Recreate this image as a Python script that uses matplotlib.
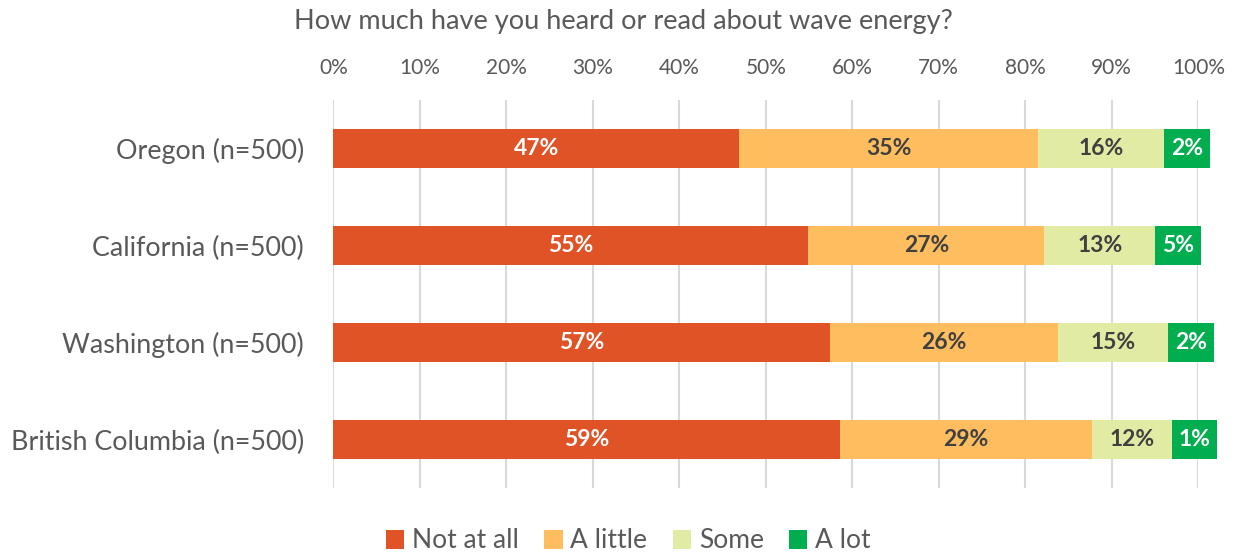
import matplotlib.pyplot as plt
import numpy as np

plt.rcParams['font.family'] = ['Lato', 'DejaVu Sans']

regions = ['Oregon (n=500)', 'California (n=500)', 'Washington (n=500)',
           'British Columbia (n=500)']
answers = ['Not at all', 'A little', 'Some', 'A lot']

# segment widths (percent)
not_at_all = [46.9, 54.9, 57.4, 58.6]
a_little = [34.6, 27.3, 26.4, 29.1]
some = [14.5, 12.8, 12.7, 9.3]
a_lot = [5.35, 5.3, 5.3, 5.2]

# printed data labels
lbl_not_at_all = ['47%', '55%', '57%', '59%']
lbl_a_little = ['35%', '27%', '26%', '29%']
lbl_some = ['16%', '13%', '15%', '12%']
lbl_a_lot = ['2%', '5%', '2%', '1%']

colors = ['#E05326', '#FEBE60', '#E2EBA4', '#00AD4F']
text_colors = ['white', '#404040', '#404040', 'white']

series = [not_at_all, a_little, some, a_lot]
labels = [lbl_not_at_all, lbl_a_little, lbl_some, lbl_a_lot]

fig = plt.figure(figsize=(12.37, 5.56), dpi=100)
ax = fig.add_axes([333.3 / 1237, 1 - 488 / 556, 865 / 1237, 388 / 556])

y = np.arange(len(regions))
left = np.zeros(len(regions))
for vals, lbls, col, tcol, name in zip(series, labels, colors, text_colors, answers):
    vals = np.array(vals)
    bars = ax.barh(y, vals, left=left, height=0.4, color=col, label=name, zorder=2)
    for b in bars:
        b.set_clip_on(False)
    for yi, (l, v, t) in enumerate(zip(left, vals, lbls)):
        ax.text(l + v / 2, yi, t, ha='center', va='center', color=tcol,
                fontsize=16.5, fontweight='bold', zorder=3)
    left += vals

ax.set_xlim(0, 100)
ax.set_ylim(3.5, -0.5)
ax.set_xticks(np.arange(0, 101, 10))
ax.set_xticklabels([f'{v}%' for v in range(0, 101, 10)])
ax.xaxis.tick_top()
ax.set_yticks(y)
ax.set_yticklabels(regions)
ax.tick_params(axis='x', length=0, pad=15.5, labelsize=15, labelcolor='#595959')
ax.tick_params(axis='y', length=0, pad=21, labelsize=19.4, labelcolor='#595959')
ax.grid(axis='x', color='#D9D9D9', linewidth=1.5, zorder=0)
ax.set_axisbelow(True)
for s in ax.spines.values():
    s.set_visible(False)

fig.text(0.504, 1 - 21 / 556, 'How much have you heard or read about wave energy?',
         ha='center', va='center', fontsize=19.5, color='#595959')

fig.legend(loc='center', bbox_to_anchor=(0.508, 1 - 541 / 556), ncol=4,
           frameon=False, fontsize=19, handlelength=0.7, handleheight=0.7,
           handletextpad=0.3, columnspacing=0.95, labelcolor='#595959')

fig.savefig('out.png', dpi=100, facecolor='white')
